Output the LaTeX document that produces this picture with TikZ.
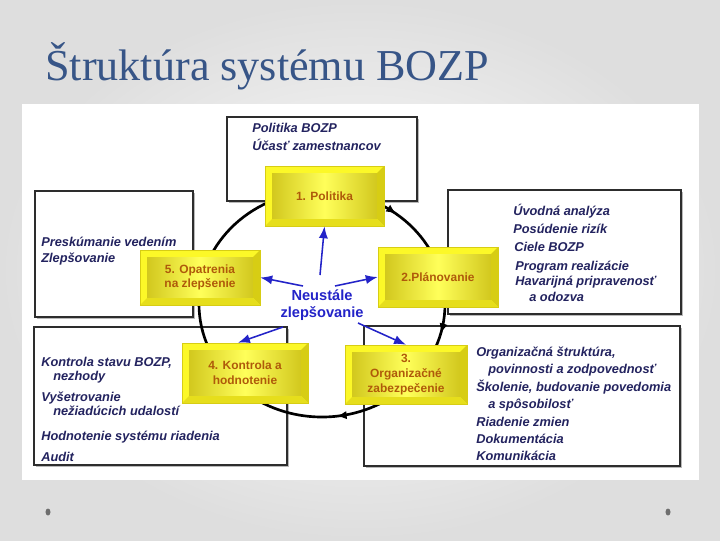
\documentclass[tikz,border=0pt]{standalone}
\usepackage{fontspec}
\newfontfamily\titlefont{Liberation Serif}
\newfontfamily\boxfont{Liberation Sans}
\usetikzlibrary{arrows.meta, shadows, decorations.markings}
\definecolor{titleblue}{RGB}{55,85,135}
\definecolor{navytext}{RGB}{35,35,95}
\definecolor{labelbrown}{RGB}{175,90,10}
\definecolor{arrowblue}{RGB}{35,35,200}
\definecolor{ybright}{RGB}{252,248,40}
\definecolor{ydark}{RGB}{210,200,30}
\definecolor{ylight}{RGB}{255,255,90}
\definecolor{yedge}{RGB}{215,205,20}
\definecolor{framegray}{RGB}{45,45,45}
\definecolor{dotgray}{RGB}{110,110,110}

\begin{document}
\begin{tikzpicture}[x=0.025cm, y=-0.025cm,
    infobox/.style={draw=framegray, line width=0.9pt, fill=white, inner sep=0,
        drop shadow={shadow xshift=1.3pt, shadow yshift=-1.3pt, fill=gray!55, opacity=1}},
    itemtext/.style={anchor=base west, inner sep=0, text=navytext,
        font=\boxfont\bfseries\itshape\fontsize{9.1}{10}\selectfont},
    yellowbox/.style={fill=ybright, draw=yedge, line width=0.4pt, inner sep=0,
        align=center, text=labelbrown, font=\boxfont\bfseries\fontsize{8.5}{10.5}\selectfont,
        path picture={
            \fill[yedge] (path picture bounding box.north east) -- (path picture bounding box.south east)
                -- ([shift={(-5pt,5pt)}]path picture bounding box.south east)
                -- ([shift={(-5pt,-5pt)}]path picture bounding box.north east) -- cycle;
            \fill[yedge!60!ybright] (path picture bounding box.south west) -- (path picture bounding box.south east)
                -- ([shift={(-5pt,5pt)}]path picture bounding box.south east)
                -- ([shift={(5pt,5pt)}]path picture bounding box.south west) -- cycle;
            \shade[left color=ydark, right color=ydark, middle color=ylight]
                ([shift={(5pt,-5pt)}]path picture bounding box.north west)
                rectangle ([shift={(-5pt,5pt)}]path picture bounding box.south east);
        }},
    cyclearc/.style={line width=1.9pt, black, postaction={decorate},
        decoration={markings,
            mark=at position 0.106 with {\arrow{Latex[length=7pt,width=6pt]}},
            mark=at position 0.29 with {\arrow{Latex[length=7pt,width=6pt]}},
            mark=at position 0.48 with {\arrow{Latex[length=7pt,width=6pt]}}}},
    bluearrow/.style={draw=arrowblue, line width=1.1pt, -{Latex[length=8.5pt,width=6.5pt]}}]

\useasboundingbox (0,0) rectangle (720,540);
% slide background
\shade[inner color=white, outer color={rgb,255:red,222;green,222;blue,222}] (0,0) rectangle (720,540);
\fill[white] (22,104) rectangle (699,480);

\node[anchor=base west, inner sep=0, text=titleblue, font=\titlefont\fontsize{31.4}{36}\selectfont]
    (title) at (45,80) {Štruktúra systému BOZP};

% frames with the items
\node[infobox, minimum width=4.75cm, minimum height=2.1cm] (polbox) at (322,159) {};
\node[infobox, minimum width=3.95cm, minimum height=3.15cm] (opatbox) at (114,254) {};
\node[infobox, minimum width=5.825cm, minimum height=3.1cm] (planbox) at (564.5,252) {};
\node[infobox, minimum width=6.325cm, minimum height=3.45cm] (kontrbox) at (160.5,396) {};
\node[infobox, minimum width=7.9cm, minimum height=3.5cm] (orgbox) at (522,396) {};

\foreach \tx/\ty/\txt [count=\i] in {252/132/Politika BOZP, 252/150/Účasť zamestnancov}
    \node[itemtext] (polt\i) at (\tx,\ty) {\txt};
\foreach \tx/\ty/\txt [count=\i] in {41/246/Preskúmanie vedením, 41/262/Zlepšovanie}
    \node[itemtext] (opatt\i) at (\tx,\ty) {\txt};
\foreach \tx/\ty/\txt [count=\i] in {513/215/Úvodná analýza, 513/233/Posúdenie rizík, 514/251/Ciele BOZP,
        515/270/Program realizácie, 515/285/Havarijná pripravenosť, 529/301/a odozva}
    \node[itemtext] (plant\i) at (\tx,\ty) {\txt};
\foreach \tx/\ty/\txt [count=\i] in {41/366/{Kontrola stavu BOZP,}, 53/380/nezhody, 41/401/Vyšetrovanie,
        53/415/nežiadúcich udalostí, 41/440/Hodnotenie systému riadenia, 41/461/Audit}
    \node[itemtext] (kontrt\i) at (\tx,\ty) {\txt};
\foreach \tx/\ty/\txt [count=\i] in {476/356/{Organizačná štruktúra,}, 488/373/povinnosti a zodpovednosť,
        476/391/{Školenie, budovanie povedomia}, 488/408/a spôsobilosť, 476/426/Riadenie zmien,
        476/443/Dokumentácia, 476/460/Komunikácia}
    \node[itemtext] (orgt\i) at (\tx,\ty) {\txt};

% the cycle
\draw[cyclearc] (322,191) arc[start angle=-90, end angle=270, x radius=123, y radius=113];

\node[yellowbox, minimum width=2.975cm, minimum height=1.5cm] (politika) at (324.5,196) {1. Politika};
\node[yellowbox, minimum width=3cm, minimum height=1.5cm] (plan) at (438,277) {2.Plánovanie};
\node[yellowbox, minimum width=3.05cm, minimum height=1.475cm] (org) at (406,374.5) {3.\\Organizačné\\zabezpečenie};
\node[yellowbox, minimum width=3.15cm, minimum height=1.5cm] (kontr) at (245,373) {4. Kontrola a\\hodnotenie};
\node[yellowbox, minimum width=3cm, minimum height=1.375cm] (opat) at (200,277.5) {5. Opatrenia\\na zlepšenie};

\node[align=center, inner sep=0, text=arrowblue, font=\boxfont\bfseries\fontsize{10.4}{11.6}\selectfont]
    (neust) at (322,305) {Neustále\\zlepšovanie};

\coordinate (t1) at (320,275);
\coordinate (t2) at (335,286);
\coordinate (t3) at (303,286);
\coordinate (t4) at (358,323);
\coordinate (t5) at (283,327);
\draw[bluearrow] (t1) -- (politika.south);
\draw[bluearrow] (t2) -- (plan.west);
\draw[bluearrow] (t3) -- (opat.east);
\draw[bluearrow] (t4) -- (org.north);
\draw[bluearrow] (t5) -- ([xshift=-5pt]kontr.north);

\fill[dotgray] (48,512) ellipse [x radius=2.5, y radius=3.5];
\fill[dotgray] (668,512) ellipse [x radius=2.5, y radius=3.5];
\end{tikzpicture}
\end{document}
